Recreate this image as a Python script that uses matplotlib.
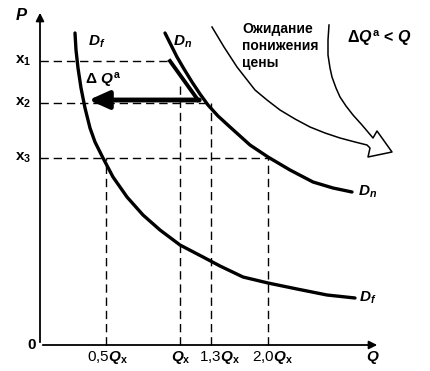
import matplotlib
matplotlib.use('Agg')
import matplotlib.pyplot as plt

plt.rcParams['font.family'] = ['Liberation Sans', 'DejaVu Sans']
plt.rcParams['mathtext.fontset'] = 'custom'
plt.rcParams['mathtext.rm'] = 'Liberation Sans:bold'
plt.rcParams['mathtext.it'] = 'Liberation Sans:italic:bold'
plt.rcParams['mathtext.bf'] = 'Liberation Sans:bold'

# quantity ticks (schematic axis units) and price levels
q_ticks = [66, 140, 171, 228]
q_labels = [r'0,5$Q_{\rm x}$', r'$Q_{\rm x}$', r'1,3$Q_{\rm x}$', r'2,0$Q_{\rm x}$']
q_label_pos = [67, 141, 179, 232]
p_levels = [284, 242, 187]
p_labels = [r'$\rm x_1$', r'$\rm x_2$', r'$\rm x_3$']

# demand curves
df_q = [35, 36, 38, 41, 45, 50, 55, 63, 73, 87, 103, 120, 140, 163, 180, 203, 228, 257, 287, 315]
df_p = [312, 295, 277, 257, 237, 217, 203, 187, 168, 148, 130, 115, 100, 88, 79, 68, 62, 56, 50, 47]
dn_q = [125, 131, 137, 144, 152, 160, 168, 178, 190, 210, 228, 250, 273, 293, 312]
dn_p = [312, 300, 288, 276, 263, 251, 240, 229, 218, 200, 188, 175, 163, 157, 153]

# hollow curved arrow "expectation of price fall"
exp_q = [172, 184, 197, 215, 227, 240, 255, 270, 285, 300, 315, 327, 330,
         328, 352, 337, 333,
         322, 313, 306, 300, 296, 292, 290, 288, 288, 289]
exp_p = [318, 298, 278, 255, 245, 235, 226, 218, 212, 207, 203, 200, 197,
         188, 193, 214, 207,
         220, 230, 239, 248, 257, 268, 277, 290, 305, 320]

fig = plt.figure(figsize=(4.31, 3.71), dpi=100)
ax = fig.add_axes([0, 0, 1, 1])
ax.set_xlim(-40, 391)
ax.set_ylim(-26, 345)
ax.axis('off')

# axes with arrows
ax.annotate('', xy=(340, 0), xytext=(0, 0),
            arrowprops=dict(arrowstyle='-|>', color='black', lw=1.3, mutation_scale=12))
ax.annotate('', xy=(0, 335), xytext=(0, 0),
            arrowprops=dict(arrowstyle='-|>', color='black', lw=1.3, mutation_scale=12))

dash = (0, (6, 3.5))
# horizontal guides
ax.plot([0, 130], [p_levels[0], p_levels[0]], color='black', lw=1, ls=dash)
ax.plot([0, q_ticks[2]], [p_levels[1], p_levels[1]], color='black', lw=1, ls=dash)
ax.plot([0, q_ticks[3]], [p_levels[2], p_levels[2]], color='black', lw=1, ls=dash)
# vertical guides
ax.plot([q_ticks[0], q_ticks[0]], [0, p_levels[2]], color='black', lw=1, ls=dash)
ax.plot([q_ticks[1], q_ticks[1]], [0, 260], color='black', lw=1, ls=dash)
ax.plot([q_ticks[2], q_ticks[2]], [0, p_levels[1]], color='black', lw=1, ls=dash)
ax.plot([q_ticks[3], q_ticks[3]], [0, p_levels[2]], color='black', lw=1, ls=dash)

ax.plot(df_q, df_p, color='black', lw=2.4, solid_capstyle='round', solid_joinstyle='round')
ax.plot(dn_q, dn_p, color='black', lw=2.4, solid_capstyle='round', solid_joinstyle='round')

# thick arrow: fall of demand
ax.plot([130, 158], [p_levels[0], 245], color='black', lw=2.8)
ax.annotate('', xy=(46, 245), xytext=(162, 245),
            arrowprops=dict(arrowstyle='-|>,head_length=1.0,head_width=0.45',
                            color='black', lw=3.5, mutation_scale=12))

ax.plot(exp_q, exp_p, color='black', lw=1.1, solid_joinstyle='round')

# texts
ax.text(-18, 330, r'$P$', ha='center', va='center', fontsize=12)
ax.text(-8, 0, '0', ha='center', va='center', fontsize=11, fontweight='bold')
for x, lab in zip(q_label_pos, q_labels):
    ax.text(x, -12, lab, ha='center', va='center', fontsize=11)
ax.text(333, -12, r'$Q$', ha='center', va='center', fontsize=11)
for y, lab in zip(p_levels, p_labels):
    ax.text(-17, y, lab, ha='center', va='center', fontsize=11)

ax.text(57, 303, r'$D_f$', ha='center', va='center', fontsize=11)
ax.text(143, 303, r'$D_n$', ha='center', va='center', fontsize=11)
ax.text(328, 47, r'$D_f$', ha='center', va='center', fontsize=11)
ax.text(328, 153, r'$D_n$', ha='center', va='center', fontsize=11)
ax.text(63, 265, r'$\Delta\ Q^{\rm a}$', ha='center', va='center', fontsize=11)
ax.text(339, 307, r'$\Delta Q^{\rm a}$ < $Q$', ha='center', va='center', fontsize=11.5,
        fontweight='bold')
ax.text(202, 299, 'Ожидание\nпонижения\nцены', ha='left', va='center',
        fontsize=10, fontweight='bold', linespacing=1.25)

fig.savefig('out.png', dpi=100)
